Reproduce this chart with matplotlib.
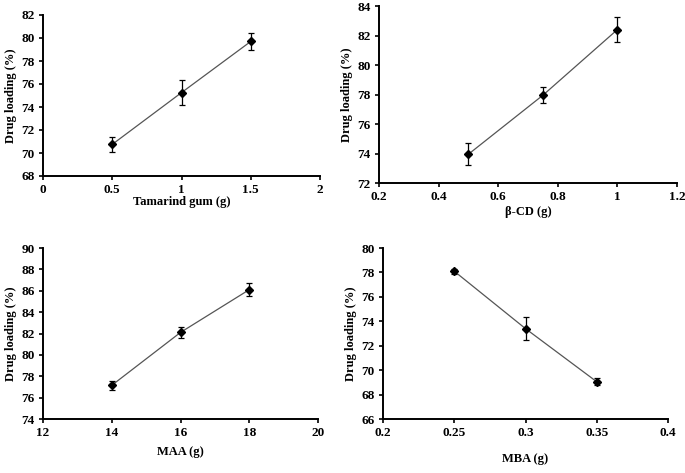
import matplotlib
matplotlib.use("Agg")
import matplotlib.pyplot as plt

plt.rcParams['font.family'] = ['Liberation Serif', 'DejaVu Serif']
plt.rcParams['font.weight'] = 'bold'

# panel data
tg_x = [0.5, 1.0, 1.5]
tg_y = [70.75, 75.25, 79.7]
tg_err = [0.63, 1.07, 0.7]

cd_x = [0.5, 0.75, 1.0]
cd_y = [73.95, 77.95, 82.4]
cd_err = [0.76, 0.56, 0.83]

maa_x = [14, 16, 18]
maa_y = [77.15, 82.1, 86.1]
maa_err = [0.42, 0.52, 0.63]

mba_x = [0.25, 0.30, 0.35]
mba_y = [78.1, 73.4, 69.05]
mba_err = [0.2, 0.95, 0.3]

W, H = 685, 473
fig = plt.figure(figsize=(W / 100, H / 100), dpi=100)


def make_axes(l, r, t, b):
    return fig.add_axes([l / W, 1 - b / H, (r - l) / W, (b - t) / H])


panels = [
    # pixel box, data, limits, ticks, x label, x tick labels, x label pad
    ((43, 320, 15, 176), tg_x, tg_y, tg_err, (0, 2), [0, 0.5, 1, 1.5, 2],
     (68, 82), range(68, 83, 2), 'Tamarind gum (g)', ['0', '0.5', '1', '1.5', '2'], 0),
    ((379, 677, 6, 183), cd_x, cd_y, cd_err, (0.2, 1.2), [0.2, 0.4, 0.6, 0.8, 1.0, 1.2],
     (72, 84), range(72, 85, 2), 'β-CD (g)', ['0.2', '0.4', '0.6', '0.8', '1', '1.2'], 2),
    ((43, 318, 248, 419), maa_x, maa_y, maa_err, (12, 20), [12, 14, 16, 18, 20],
     (74, 90), range(74, 91, 2), 'MAA (g)', ['12', '14', '16', '18', '20'], 5),
    ((383, 668, 248, 419), mba_x, mba_y, mba_err, (0.2, 0.4), [0.2, 0.25, 0.3, 0.35, 0.4],
     (66, 80), range(66, 81, 2), 'MBA (g)', ['0.2', '0.25', '0.3', '0.35', '0.4'], 10),
]

for box, x, y, err, xlim, xticks, ylim, yticks, xlabel, xtl, xpad in panels:
    ax = make_axes(*box)
    ax.plot(x, y, color='#555555', linewidth=0.9, zorder=2)
    ax.errorbar(x, y, yerr=err, fmt='D', color='black', markersize=4.5,
                ecolor='black', elinewidth=0.9, capsize=2.5, capthick=0.9, zorder=3)
    ax.set_xlim(*xlim)
    ax.set_ylim(*ylim)
    ax.set_xticks(xticks)
    ax.set_xticklabels(xtl)
    ax.set_yticks(list(yticks))
    for s in ['top', 'right']:
        ax.spines[s].set_visible(False)
    for s in ['left', 'bottom']:
        ax.spines[s].set_linewidth(1.4)
    ax.tick_params(direction='out', length=3, width=1.2, labelsize=9.5, pad=3)
    for lab in ax.get_xticklabels() + ax.get_yticklabels():
        lab.set_fontweight('bold')
    ax.set_xlabel(xlabel, fontsize=9, fontweight='bold', labelpad=xpad)
    ax.set_ylabel('Drug loading (%)', fontsize=9, fontweight='bold', labelpad=3)

fig.savefig('out.png', dpi=100)
